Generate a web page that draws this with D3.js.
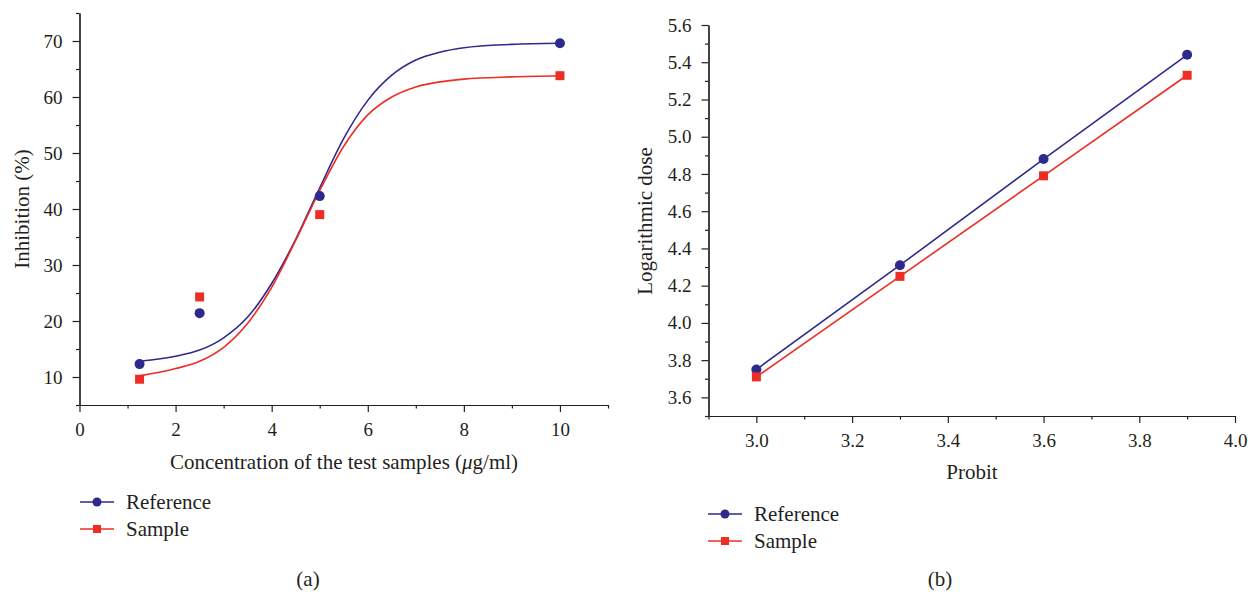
<!DOCTYPE html>
<html>
<head>
<meta charset="utf-8">
<script src="https://cdn.jsdelivr.net/npm/d3@7"></script>
<style>
  body { margin: 0; background: #fff; }
  svg text { font-family: "Liberation Serif", "DejaVu Serif", serif; fill: #231f20; }
  .axis path, .axis line { stroke: #231f20; stroke-width: 1.2; }
</style>
</head>
<body>
<svg width="1248" height="592"></svg>
<script>
// ---- data (a): inhibition vs concentration ----
var concX = [1.25, 2.5, 5, 10];
var refInhib = [12.3, 21.4, 42.3, 69.6];
var smpInhib = [9.6, 24.3, 39.0, 63.8];
// fitted curves
var fitX = [1.25, 2.0, 2.5, 3.0, 3.5, 4.0, 4.5, 5.0, 5.5, 6.0, 6.5, 7.0, 7.5, 8.0, 9.0, 10.0];
var refFit = [12.8, 13.7, 14.8, 17.0, 20.7, 26.7, 34.6, 43.8, 52.6, 59.4, 63.9, 66.6, 68.0, 68.8, 69.4, 69.6];
var smpFit = [10.2, 11.5, 12.8, 15.3, 19.6, 26.0, 34.4, 43.3, 51.2, 56.8, 60.0, 61.8, 62.7, 63.2, 63.6, 63.8];

// ---- data (b): logarithmic dose vs probit ----
var probitX = [3.0, 3.3, 3.6, 3.9];
var refDose = [3.75, 4.31, 4.88, 5.44];
var smpDose = [3.71, 4.25, 4.79, 5.33];

var seriesNames = ["Reference", "Sample"];
var blue = "#2e2a8c", red = "#ee2d24";

var svg = d3.select("svg");

// minor + major ticks on bottom and left axes
function drawAxes(g, x, y, xMajor, xMinor, yMajor, yMinor, xFmt, yFmt) {
  var h = y.range()[0], left = x.range()[0];
  g.append("g").attr("class", "axis").attr("transform", "translate(0," + h + ")")
    .call(d3.axisBottom(x).tickValues(xMinor).tickFormat("").tickSize(3.5).tickSizeOuter(0));
  var xa = g.append("g").attr("class", "axis").attr("transform", "translate(0," + h + ")")
    .call(d3.axisBottom(x).tickValues(xMajor).tickFormat(xFmt).tickSize(7).tickSizeOuter(0).tickPadding(11));
  xa.selectAll("text").style("font-size", "19px");
  g.append("g").attr("class", "axis").attr("transform", "translate(" + left + ",0)")
    .call(d3.axisLeft(y).tickValues(yMinor).tickFormat("").tickSize(3.5).tickSizeOuter(0));
  var ya = g.append("g").attr("class", "axis").attr("transform", "translate(" + left + ",0)")
    .call(d3.axisLeft(y).tickValues(yMajor).tickFormat(yFmt).tickSize(7).tickSizeOuter(0).tickPadding(10));
  ya.selectAll("text").style("font-size", "19px");
}

function drawMarkers(g, xs, ys, x, y, kind, color) {
  if (kind === "circle") {
    g.selectAll(null).data(xs).enter().append("circle")
      .attr("cx", function(d) { return x(d); })
      .attr("cy", function(d, i) { return y(ys[i]); })
      .attr("r", 5).attr("fill", color);
  } else {
    g.selectAll(null).data(xs).enter().append("rect")
      .attr("x", function(d) { return x(d) - 4.5; })
      .attr("y", function(d, i) { return y(ys[i]) - 4.5; })
      .attr("width", 9).attr("height", 9).attr("fill", color);
  }
}

function drawLegend(g, lx, ly, gap) {
  seriesNames.forEach(function(name, i) {
    var c = i === 0 ? blue : red;
    var row = g.append("g").attr("transform", "translate(" + lx + "," + (ly + i * gap) + ")");
    row.append("line").attr("x1", 0).attr("x2", 34).attr("stroke", c).attr("stroke-width", 1.5);
    if (i === 0) row.append("circle").attr("cx", 17).attr("r", 4.5).attr("fill", c);
    else row.append("rect").attr("x", 13).attr("y", -4).attr("width", 8).attr("height", 8).attr("fill", c);
    row.append("text").attr("x", 46).attr("y", 7).style("font-size", "21px").text(name);
  });
}

// ---------- panel (a) ----------
var xa = d3.scaleLinear().domain([0, 11]).range([79.5, 608]);
var ya = d3.scaleLinear().domain([5, 75]).range([405, 13]);
var ga = svg.append("g");
drawAxes(ga, xa, ya,
  [0, 2, 4, 6, 8, 10], [1, 3, 5, 7, 9, 11],
  [10, 20, 30, 40, 50, 60, 70], [5, 15, 25, 35, 45, 55, 65, 75],
  d3.format("d"), d3.format("d"));

var fitLine = d3.line().curve(d3.curveMonotoneX);
ga.append("path")
  .attr("d", fitLine(fitX.map(function(d, i) { return [xa(d), ya(refFit[i])]; })))
  .attr("fill", "none").attr("stroke", blue).attr("stroke-width", 1.6);
ga.append("path")
  .attr("d", fitLine(fitX.map(function(d, i) { return [xa(d), ya(smpFit[i])]; })))
  .attr("fill", "none").attr("stroke", red).attr("stroke-width", 1.6);
drawMarkers(ga, concX, refInhib, xa, ya, "circle", blue);
drawMarkers(ga, concX, smpInhib, xa, ya, "rect", red);

ga.append("text").attr("x", 344).attr("y", 469).attr("text-anchor", "middle")
  .style("font-size", "21px").html("Concentration of the test samples (<tspan font-style='italic'>μ</tspan>g/ml)");
ga.append("text").attr("transform", "translate(29,209) rotate(-90)").attr("text-anchor", "middle")
  .style("font-size", "21px").text("Inhibition (%)");
drawLegend(ga, 80, 502, 27);
ga.append("text").attr("x", 308).attr("y", 586).attr("text-anchor", "middle")
  .style("font-size", "21px").text("(a)");

// ---------- panel (b) ----------
var xb = d3.scaleLinear().domain([2.9, 4.0]).range([708.5, 1235]);
var yb = d3.scaleLinear().domain([3.5, 5.6]).range([416, 25]);
var gb = svg.append("g");
drawAxes(gb, xb, yb,
  [3.0, 3.2, 3.4, 3.6, 3.8, 4.0], [2.9, 3.1, 3.3, 3.5, 3.7, 3.9],
  [3.6, 3.8, 4.0, 4.2, 4.4, 4.6, 4.8, 5.0, 5.2, 5.4, 5.6], [3.5, 3.7, 3.9, 4.1, 4.3, 4.5, 4.7, 4.9, 5.1, 5.3, 5.5],
  d3.format(".1f"), d3.format(".1f"));

var straight = d3.line();
gb.append("path")
  .attr("d", straight(probitX.map(function(d, i) { return [xb(d), yb(refDose[i])]; })))
  .attr("fill", "none").attr("stroke", blue).attr("stroke-width", 1.6);
gb.append("path")
  .attr("d", straight(probitX.map(function(d, i) { return [xb(d), yb(smpDose[i])]; })))
  .attr("fill", "none").attr("stroke", red).attr("stroke-width", 1.6);
drawMarkers(gb, probitX, refDose, xb, yb, "circle", blue);
drawMarkers(gb, probitX, smpDose, xb, yb, "rect", red);

gb.append("text").attr("x", 972).attr("y", 479).attr("text-anchor", "middle")
  .style("font-size", "21px").text("Probit");
gb.append("text").attr("transform", "translate(652,221) rotate(-90)").attr("text-anchor", "middle")
  .style("font-size", "21px").text("Logarithmic dose");
drawLegend(gb, 708, 514, 27);
gb.append("text").attr("x", 940).attr("y", 586).attr("text-anchor", "middle")
  .style("font-size", "21px").text("(b)");
</script>
</body>
</html>
